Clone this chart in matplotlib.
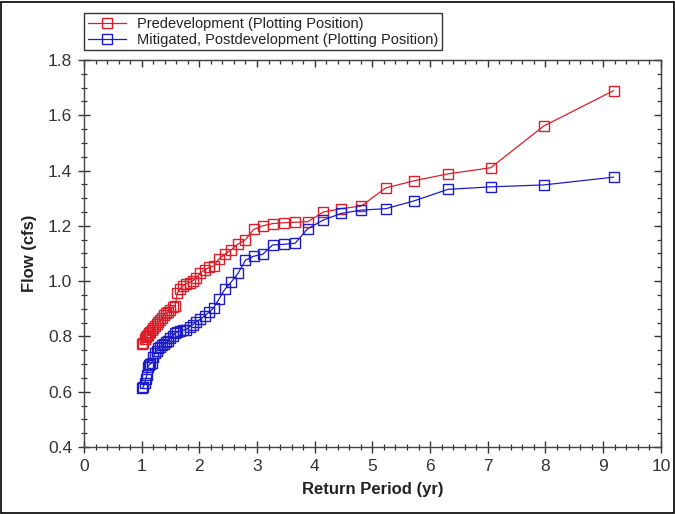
import matplotlib
matplotlib.use("Agg")
import matplotlib.pyplot as plt
from matplotlib.ticker import MultipleLocator, NullFormatter
from matplotlib.patches import Rectangle

plt.rcParams['font.family'] = ['Liberation Sans', 'DejaVu Sans']

return_period = [1.01, 1.03, 1.05, 1.07, 1.09, 1.11, 1.13, 1.15, 1.18, 1.20,
                 1.23, 1.26, 1.29, 1.32, 1.35, 1.39, 1.42, 1.46, 1.50, 1.54,
                 1.58, 1.62, 1.67, 1.72, 1.77, 1.83, 1.89, 1.95, 2.02, 2.09,
                 2.17, 2.25, 2.34, 2.44, 2.55, 2.67, 2.80, 2.94, 3.10, 3.27,
                 3.46, 3.66, 3.88, 4.15, 4.46, 4.81, 5.23, 5.72, 6.31, 7.05,
                 7.97, 9.18]

predev = [0.773, 0.776, 0.790, 0.797, 0.800, 0.806, 0.812, 0.815, 0.822, 0.829,
          0.836, 0.845, 0.851, 0.858, 0.866, 0.877, 0.884, 0.890, 0.897, 0.905,
          0.910, 0.958, 0.972, 0.983, 0.990, 0.995, 1.002, 1.013, 1.030, 1.040,
          1.050, 1.055, 1.080, 1.097, 1.113, 1.134, 1.150, 1.187, 1.200, 1.208,
          1.211, 1.213, 1.215, 1.250, 1.262, 1.272, 1.337, 1.363, 1.388, 1.410,
          1.561, 1.689]

mitigated = [0.612, 0.618, 0.630, 0.645, 0.660, 0.690, 0.697, 0.700, 0.705, 0.725,
             0.739, 0.748, 0.757, 0.763, 0.768, 0.773, 0.778, 0.782, 0.795, 0.802,
             0.812, 0.817, 0.820, 0.823, 0.824, 0.835, 0.843, 0.853, 0.862, 0.875,
             0.888, 0.904, 0.935, 0.970, 0.996, 1.028, 1.076, 1.090, 1.097, 1.131,
             1.133, 1.137, 1.190, 1.221, 1.245, 1.257, 1.262, 1.290, 1.332, 1.341,
             1.348, 1.376]

series_labels = ["Predevelopment (Plotting Position)",
                 "Mitigated, Postdevelopment (Plotting Position)"]

fig = plt.figure(figsize=(6.75, 5.14), dpi=100)
fig.patch.set_facecolor('white')
fig.add_artist(Rectangle((0.002, 0.002), 0.996, 0.994, transform=fig.transFigure,
                         fill=False, edgecolor='black', linewidth=1.2))

ax = fig.add_axes([0.1244, 0.1304, 0.979 - 0.1244, 0.8833 - 0.1304])

red = '#dc1e28'
blue = '#1c1ccc'
ax.plot(return_period, predev, color=red, lw=0.9, marker='s', ms=7.8,
        mfc='none', mec=red, mew=1.0, label=series_labels[0])
ax.plot(return_period, mitigated, color=blue, lw=0.9, marker='s', ms=7.8,
        mfc='none', mec=blue, mew=1.0, label=series_labels[1])

ax.set_xlim(0, 10)
ax.set_ylim(0.4, 1.8)
ax.xaxis.set_major_locator(MultipleLocator(1))
ax.xaxis.set_minor_locator(MultipleLocator(0.2))
ax.yaxis.set_major_locator(MultipleLocator(0.2))
ax.yaxis.set_minor_locator(MultipleLocator(0.05))
ax.yaxis.set_major_formatter(plt.FuncFormatter(lambda v, p: f"{v:.1f}"))

for s in ax.spines.values():
    s.set_color('#444444')
    s.set_linewidth(1.0)

ax.tick_params(which='major', direction='inout', length=9, width=1.0,
               colors='#333333', labelsize=12.5, pad=4, top=False, right=False)
ax.tick_params(which='minor', direction='inout', length=5, width=0.9,
               colors='#333333', top=False, right=False)

# inward ticks on top and right
secx = ax.secondary_xaxis('top')
secx.xaxis.set_major_locator(MultipleLocator(1))
secx.xaxis.set_minor_locator(MultipleLocator(0.2))
secx.xaxis.set_major_formatter(NullFormatter())
secx.tick_params(which='major', direction='in', length=5, width=1.0, colors='#333333')
secx.tick_params(which='minor', direction='in', length=3, width=0.9, colors='#333333')
secx.spines['top'].set_color('#444444')

secy = ax.secondary_yaxis('right')
secy.yaxis.set_major_locator(MultipleLocator(0.2))
secy.yaxis.set_minor_locator(MultipleLocator(0.05))
secy.yaxis.set_major_formatter(NullFormatter())
secy.tick_params(which='major', direction='in', length=5, width=1.0, colors='#333333')
secy.tick_params(which='minor', direction='in', length=3, width=0.9, colors='#333333')
secy.spines['right'].set_color('#444444')

ax.set_xlabel("Return Period (yr)", fontsize=12, fontweight='bold', color='#222222', labelpad=6)
ax.set_ylabel("Flow (cfs)", fontsize=12, fontweight='bold', color='#222222', labelpad=8)

leg = fig.legend(loc='upper left', bbox_to_anchor=(84 / 675, 1 - 13 / 514),
                 frameon=True, fancybox=False, fontsize=10.5, handlelength=2.6,
                 handletextpad=0.8, borderpad=0.25, labelspacing=0.15,
                 borderaxespad=0)
leg.get_frame().set_edgecolor('black')
leg.get_frame().set_linewidth(1.0)
for t in leg.get_texts():
    t.set_color('#222222')

fig.savefig("out.png", dpi=100)
